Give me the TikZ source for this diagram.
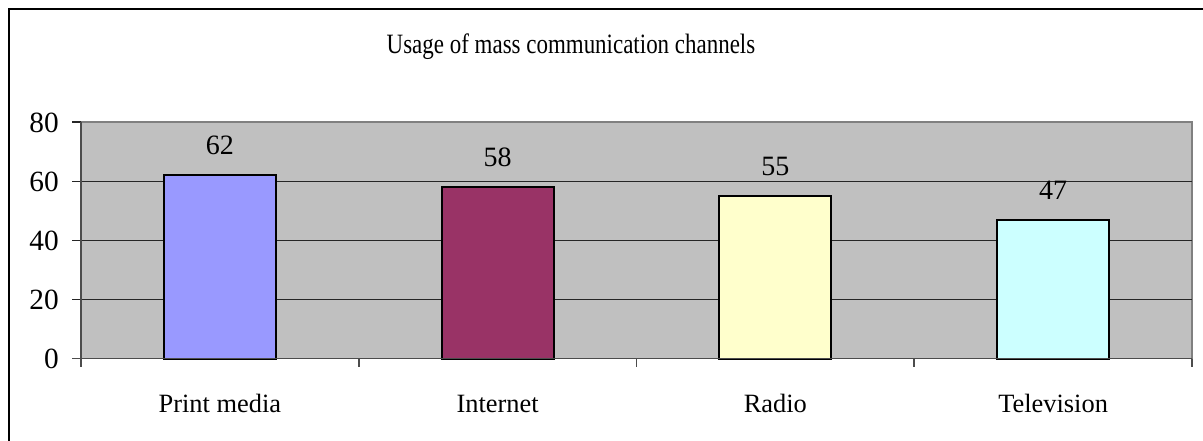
\documentclass[tikz,border=0pt]{standalone}
\usepackage{fontspec}
\setmainfont{Liberation Serif}
\newfontfamily\titlefont[FakeStretch=0.82]{Liberation Serif}
\definecolor{plotgray}{HTML}{C0C0C0}
\definecolor{bordgray}{HTML}{808080}
\definecolor{barA}{HTML}{9999FF}
\definecolor{barB}{HTML}{993366}
\definecolor{barC}{HTML}{FFFFCC}
\definecolor{barD}{HTML}{CCFFFF}
\tikzset{
  bar/.style={draw=black, line width=1.4pt},
  grid line/.style={draw=black!85, line width=0.8pt},
  axis line/.style={draw=black!70, line width=1.2pt},
  ylab/.style={anchor=base east, inner sep=0pt, font=\fontsize{22}{26}\selectfont},
  vlab/.style={anchor=base, inner sep=0pt, font=\fontsize{21}{24}\selectfont},
  clab/.style={anchor=base, inner sep=0pt, font=\fontsize{19.8}{24}\selectfont},
}
\begin{document}
\begin{tikzpicture}[x=0.75pt,y=-0.75pt]
\useasboundingbox (0,0) rectangle (1203,441);
\clip (0,0) rectangle (1203,441);
\fill[white] (0,0) rectangle (1203,441);
% outer frame
\draw[black, line width=1.6pt] (9,9) rectangle (1215,455);
% plot area
\fill[plotgray] (81,122) rectangle (1192,358.7);
\draw[bordgray, line width=1.6pt] (81,122) -- (1192,122) -- (1192,358.7);
% gridlines
\foreach \v in {20,40,60} {
  \draw[grid line] (72,{358.7-2.959*\v}) -- (1192,{358.7-2.959*\v});
}
\draw[grid line] (72,122) -- (81,122);
% bars
\foreach \c/\v/\col in {219.9/62/barA, 497.6/58/barB, 775.4/55/barC, 1053.1/47/barD} {
  \filldraw[bar, fill=\col] ({\c-56},358.7) rectangle ({\c+56},{358.7-2.959*\v});
}
% axes
\draw[axis line] (81,122) -- (81,367.5);
\draw[axis line] (72,358.7) -- (1192,358.7);
\foreach \x in {358.75,636.5,914.25,1192} {
  \draw[axis line] (\x,358.7) -- (\x,367.5);
}
% y labels
\node[ylab] (y0) at (59,369) {0};
\node[ylab] (y20) at (59,310) {20};
\node[ylab] (y40) at (59,251) {40};
\node[ylab] (y60) at (59,192) {60};
\node[ylab] (y80) at (59,133) {80};
% value labels
\node[vlab] (v1) at (219.9,155) {62};
\node[vlab] (v2) at (497.6,167) {58};
\node[vlab] (v3) at (775.4,176) {55};
\node[vlab] (v4) at (1053.1,200) {47};
% category labels
\node[clab] (c1) at (219.9,413) {Print media};
\node[clab] (c2) at (497.6,413) {Internet};
\node[clab] (c3) at (775.4,413) {Radio};
\node[clab] (c4) at (1053.1,413) {Television};
% title
\node[inner sep=0pt, anchor=base, font=\titlefont\fontsize{21}{24}\selectfont] (title) at (571,53.3) {Usage of mass communication channels};
\end{tikzpicture}
\end{document}
